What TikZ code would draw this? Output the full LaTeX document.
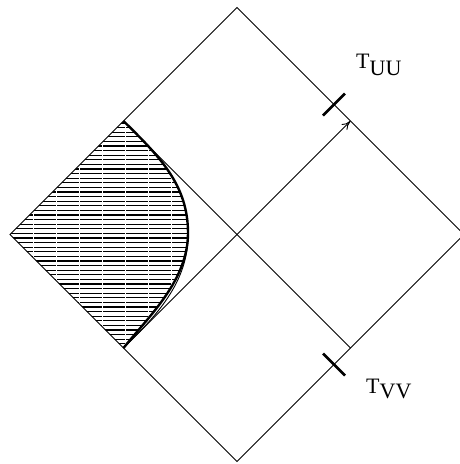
\documentclass[tikz,border=0pt]{standalone}
\usepackage{fontspec}
\setmainfont{Liberation Serif}
\usetikzlibrary{arrows.meta}
\begin{document}
\begin{tikzpicture}[x=1pt,y=-1pt,
  edge/.style={line width=0.9pt},
  hatchline/.style={line width=1.3pt},
  gapline/.style={white,line width=0.9pt},
  tickmark/.style={line width=2.6pt},
  wall/.style={line width=2.4pt},
  wallb/.style={line width=0.9pt},
  lbl/.style={anchor=base west,inner sep=0pt,font=\fontsize{22}{24}\selectfont}]
\useasboundingbox (0,0) rectangle (459,464);
\coordinate (C) at (237,234.5);
\coordinate (N) at (237,7.5);
\coordinate (S) at (237,461.5);
\coordinate (W) at (10,234.5);
\coordinate (E) at (464,234.5);
\coordinate (NW) at (123.5,121);
\coordinate (SW) at (123.5,348);
\coordinate (NE) at (350.5,121);
\coordinate (SE) at (350.5,348);
\coordinate (M) at (188,233);
% hatched region
\begin{scope}
  \clip (W) -- (NW) .. controls (160,157) and (188,185) .. (M)
        .. controls (188,280) and (150,315) .. (SW) -- cycle;
  \foreach \y in {123,127.6,...,350} \draw[hatchline] (0,\y) -- (200,\y);
  \foreach \x in {33,56,...,190} \draw[gapline] (\x,100) -- (\x,360);
\end{scope}
% outer diamond
\draw[edge] (N) -- (E) -- (S) -- (W) -- cycle;
% diagonals
\draw[edge] (NW) -- (SE);
\draw[edge,-{To[length=9pt,width=8pt]}] (SW) -- (NE);
% wall curves
\draw[wall] (NW) .. controls (160,157) and (188,185) .. (M)
      .. controls (188,280) and (150,315) .. (SW);
\draw[wallb] (M) .. controls (189,282) and (156,316) .. (SW);
% ticks
\coordinate (TU) at (334,104.5);
\coordinate (TV) at (334,364.5);
\draw[tickmark] ([shift={(-11,11)}]TU) -- ([shift={(11,-11)}]TU);
\draw[tickmark] ([shift={(-11,-11)}]TV) -- ([shift={(11,11)}]TV);
% labels
\node[lbl] (tuu) at (356,68) {T\raisebox{-7pt}{UU}};
\node[lbl] (tvv) at (366,393) {T\raisebox{-5pt}{VV}};
\end{tikzpicture}
\end{document}
